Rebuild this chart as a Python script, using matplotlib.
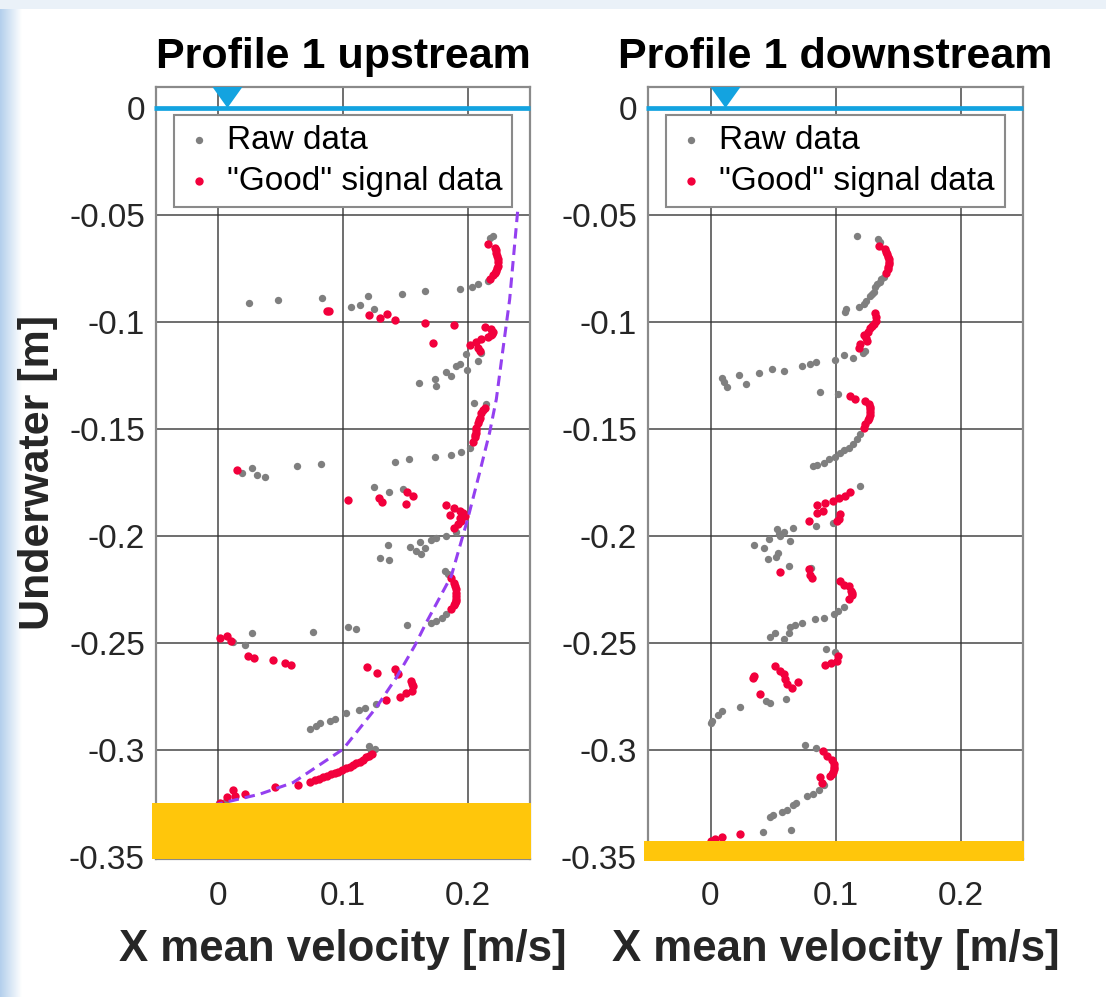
import numpy as np
import matplotlib
matplotlib.use("Agg")
import matplotlib.pyplot as plt
from matplotlib.patches import Rectangle

plt.rcParams["font.family"] = ["Liberation Sans", "DejaVu Sans"]

# %% Data  (velocity [m/s], depth [m])

up_raw = [
    (0.218, -0.061), (0.220, -0.0598), (0.2163, -0.0808), (0.2083, -0.0824), (0.2037, -0.0835),
    (0.1936, -0.0847), (0.166, -0.0857), (0.1476, -0.0868), (0.12, -0.0879), (0.1134, -0.0919),
    (0.1067, -0.0928), (0.1246, -0.0938), (0.0834, -0.0888), (0.0479, -0.0897), (0.0246, -0.091),
    (0.211, -0.1146), (0.1989, -0.1151), (0.2083, -0.1182), (0.1936, -0.1198), (0.1904, -0.1206),
    (0.1829, -0.1234), (0.1869, -0.1252), (0.1995, -0.1224), (0.1735, -0.1268), (0.161, -0.1287),
    (0.1743, -0.1299), (0.2048, -0.1377), (0.215, -0.1385),
    (0.2021, -0.1587), (0.1944, -0.161), (0.1864, -0.1621), (0.1741, -0.1631), (0.1527, -0.1642),
    (0.1414, -0.1653), (0.0821, -0.1662), (0.0634, -0.1673), (0.0273, -0.1682), (0.0193, -0.1704),
    (0.031, -0.1715), (0.0377, -0.1724), (0.1246, -0.177), (0.1369, -0.1793), (0.1481, -0.178),
    (0.1904, -0.1984), (0.1829, -0.2), (0.1743, -0.2012), (0.1709, -0.2019), (0.1615, -0.2028),
    (0.154, -0.205), (0.1361, -0.2042), (0.1655, -0.2058), (0.1588, -0.207), (0.1628, -0.2086),
    (0.1294, -0.2101), (0.1369, -0.2112), (0.1816, -0.2164), (0.1842, -0.2179),
    (0.1829, -0.2366), (0.1797, -0.2382), (0.1749, -0.2397), (0.1709, -0.2408), (0.1516, -0.2417),
    (0.1107, -0.2436), (0.104, -0.2428), (0.0759, -0.2449), (0.0273, -0.2456), (0.0211, -0.2511),
    (0.0118, -0.2495), (0.1267, -0.2787), (0.1174, -0.2802), (0.1128, -0.2813), (0.1021, -0.2826),
    (0.0933, -0.2854), (0.0898, -0.2865), (0.0818, -0.2876), (0.0786, -0.2888), (0.0733, -0.2904),
    (0.1209, -0.2984), (0.1254, -0.2997), (0.1227, -0.3004), (0.0005, -0.3248), (0.005, -0.3242),
]
up_good = [
    (0.216, -0.0637), (0.2217, -0.0653), (0.2225, -0.0665), (0.223, -0.0676), (0.2237, -0.069),
    (0.2243, -0.0707), (0.2245, -0.0722), (0.2243, -0.0738), (0.2238, -0.075), (0.223, -0.0762),
    (0.2217, -0.0772), (0.2203, -0.0782), (0.2176, -0.0797),
    (0.0888, -0.0949), (0.0875, -0.0949), (0.1209, -0.0969), (0.13, -0.0981), (0.1353, -0.0961),
    (0.1414, -0.0991), (0.1658, -0.1003), (0.1888, -0.1012),
    (0.2136, -0.1022), (0.219, -0.1034), (0.22, -0.1045), (0.2198, -0.1058), (0.2185, -0.1062),
    (0.2163, -0.1069), (0.211, -0.1081), (0.207, -0.1093), (0.2016, -0.1109), (0.2083, -0.112),
    (0.2096, -0.1136), (0.1722, -0.11),
    (0.2136, -0.14), (0.2123, -0.1412), (0.211, -0.1424), (0.2096, -0.1447), (0.209, -0.146),
    (0.2083, -0.147), (0.207, -0.1494), (0.2066, -0.1505), (0.2064, -0.1517), (0.206, -0.153),
    (0.2056, -0.154), (0.2043, -0.1561), (0.015, -0.1693),
    (0.104, -0.1832), (0.1289, -0.1821), (0.1316, -0.1841), (0.1513, -0.1797), (0.1561, -0.1813),
    (0.1508, -0.1849), (0.1824, -0.1857), (0.1888, -0.1868), (0.1936, -0.1883), (0.1962, -0.1895),
    (0.1976, -0.1907), (0.1856, -0.1903), (0.1935, -0.1915), (0.1949, -0.193), (0.1922, -0.1945),
    (0.1888, -0.1961),
    (0.1869, -0.2195), (0.1888, -0.2218), (0.1897, -0.2233), (0.1904, -0.2249), (0.1908, -0.2265),
    (0.1909, -0.2281), (0.1907, -0.2293), (0.1904, -0.2304), (0.1896, -0.2315), (0.1888, -0.2324),
    (0.1864, -0.2343),
    (0.0016, -0.2478), (0.007, -0.2467), (0.0104, -0.2491), (0.0238, -0.2561), (0.0283, -0.2572),
    (0.0439, -0.2581), (0.0532, -0.2592), (0.0586, -0.2603),
    (0.1193, -0.2611), (0.1275, -0.2643), (0.1414, -0.2623), (0.1441, -0.2646), (0.1548, -0.2677),
    (0.1555, -0.269), (0.1561, -0.2701), (0.1556, -0.2724), (0.1508, -0.2735), (0.1455, -0.2751),
    (0.1348, -0.2767),
    (0.1235, -0.302), (0.1212, -0.3028), (0.1187, -0.3035), (0.116, -0.3045), (0.1134, -0.3056),
    (0.1107, -0.3063), (0.108, -0.3071), (0.1053, -0.3079), (0.1027, -0.3087), (0.0993, -0.3095),
    (0.096, -0.3102), (0.0933, -0.3108), (0.0906, -0.3113), (0.0873, -0.3121), (0.084, -0.3129),
    (0.0806, -0.3136), (0.0773, -0.3142), (0.0733, -0.3148), (0.0639, -0.3163), (0.0452, -0.3173),
    (0.0211, -0.3204), (0.0118, -0.3187), (0.007, -0.3222), (0.0131, -0.3214), (0.0011, -0.3246),
    (0.0, -0.3503),
]
down_raw = [
    (0.1171, -0.0598), (0.1336, -0.0611), (0.1357, -0.0626),
    (0.1384, -0.0788), (0.1365, -0.08), (0.1352, -0.0813), (0.1335, -0.0825), (0.1317, -0.0835),
    (0.1304, -0.086), (0.129, -0.087), (0.1277, -0.0879), (0.1245, -0.0902), (0.1224, -0.0917),
    (0.1184, -0.0928), (0.1085, -0.0941), (0.1077, -0.0953),
    (0.1237, -0.1136), (0.1219, -0.1146), (0.1139, -0.1167), (0.1064, -0.1156), (0.0997, -0.1178),
    (0.0845, -0.1187), (0.0792, -0.1196), (0.0731, -0.1206), (0.0589, -0.1229), (0.0493, -0.1218),
    (0.0384, -0.1237), (0.028, -0.1291), (0.0227, -0.1246), (0.0091, -0.126), (0.0104, -0.1283),
    (0.0131, -0.1302), (0.0872, -0.1327), (0.1016, -0.1338),
    (0.1197, -0.1525), (0.1171, -0.1545), (0.1139, -0.1572), (0.1104, -0.1587), (0.1064, -0.1598),
    (0.1032, -0.1614), (0.0997, -0.1629), (0.0944, -0.1642), (0.0904, -0.1657), (0.0851, -0.1668),
    (0.0819, -0.1673), (0.1192, -0.1766),
    (0.0979, -0.1941), (0.0845, -0.1953), (0.0659, -0.1961), (0.0584, -0.1984), (0.0531, -0.1969),
    (0.0544, -0.1992), (0.0632, -0.2023), (0.0464, -0.2016), (0.0344, -0.2044), (0.0424, -0.2055),
    (0.0557, -0.2), (0.0536, -0.2078), (0.0525, -0.2097), (0.0456, -0.2109), (0.0624, -0.214),
    (0.0803, -0.2148),
    (0.1064, -0.233), (0.1016, -0.2351), (0.0984, -0.2367), (0.0904, -0.2386), (0.0837, -0.239),
    (0.0731, -0.2405), (0.0677, -0.2418), (0.0637, -0.2424), (0.0624, -0.2452), (0.0589, -0.2483),
    (0.0517, -0.2452), (0.0477, -0.2471), (0.0925, -0.2529), (0.0997, -0.2542),
    (0.0605, -0.2763), (0.0445, -0.2771), (0.0472, -0.2783), (0.0232, -0.2799), (0.0091, -0.2818),
    (0.0056, -0.2838), (0.0011, -0.2865), (0.0, -0.2876), (0.0757, -0.2978), (0.0845, -0.2989),
    (0.0904, -0.3165), (0.0864, -0.3187), (0.0819, -0.3207), (0.0771, -0.3215), (0.0685, -0.3246),
    (0.0659, -0.3258), (0.0611, -0.328), (0.0571, -0.3289), (0.0499, -0.3305), (0.0477, -0.3316),
    (0.0643, -0.3374), (0.0416, -0.3383),
]
down_good = [
    (0.1344, -0.0645), (0.1397, -0.066), (0.1405, -0.0672), (0.1411, -0.0684), (0.1421, -0.0695),
    (0.1424, -0.0707), (0.1425, -0.072), (0.1424, -0.0731), (0.142, -0.0743), (0.1416, -0.0754),
    (0.1405, -0.0769),
    (0.1317, -0.0956), (0.1322, -0.0975), (0.1325, -0.0995), (0.1304, -0.1011), (0.129, -0.1018),
    (0.1277, -0.1026), (0.1256, -0.1047), (0.1224, -0.1062), (0.124, -0.1075), (0.1251, -0.1089),
    (0.1197, -0.1104), (0.1184, -0.112),
    (0.1112, -0.1346), (0.1157, -0.1358), (0.1237, -0.1369), (0.1264, -0.1385), (0.1276, -0.1396),
    (0.1277, -0.1408), (0.1276, -0.1422), (0.1272, -0.1436), (0.1265, -0.1447), (0.1256, -0.1458),
    (0.1237, -0.1478), (0.1224, -0.1498),
    (0.1112, -0.1794), (0.1077, -0.1813), (0.1024, -0.1821), (0.0979, -0.1836), (0.0917, -0.1847),
    (0.0851, -0.1857), (0.0899, -0.1883), (0.0851, -0.1891), (0.1037, -0.1899), (0.1024, -0.1919),
    (0.1011, -0.193), (0.0784, -0.193),
    (0.0557, -0.2168), (0.0784, -0.2155), (0.0797, -0.2183), (0.0811, -0.2199),
    (0.1032, -0.221), (0.1069, -0.223), (0.1104, -0.2233), (0.1123, -0.2257), (0.1128, -0.2267),
    (0.1131, -0.2277), (0.1104, -0.2296),
    (0.1016, -0.2561), (0.1011, -0.2584), (0.0963, -0.2595), (0.0917, -0.2603), (0.0517, -0.261),
    (0.0552, -0.263), (0.0584, -0.2646), (0.0597, -0.2669), (0.061, -0.2693), (0.065, -0.2713),
    (0.0696, -0.2685), (0.0349, -0.2657), (0.0339, -0.2666), (0.0397, -0.2739),
    (0.0899, -0.3004), (0.0931, -0.3028), (0.0971, -0.3046), (0.0989, -0.3067), (0.0985, -0.3078),
    (0.0989, -0.309), (0.098, -0.3102), (0.0971, -0.3113), (0.0957, -0.3121), (0.0872, -0.3129),
    (0.0891, -0.3153),
    (0.0232, -0.3394), (0.0091, -0.3405), (0.0037, -0.3418), (0.0, -0.3425),
]
# Dashed fitted profile (upstream only)
fit_v = [-0.0046, 0.0332, 0.0599, 0.1, 0.1267, 0.1428, 0.1575, 0.1668, 0.1869, 0.2003,
         0.2096, 0.2176, 0.223, 0.2283, 0.2337, 0.2404]
fit_d = [-0.3259, -0.3207, -0.3153, -0.2997, -0.2802, -0.2662, -0.2514, -0.2405, -0.2187, -0.1915,
         -0.1704, -0.1517, -0.1361, -0.1128, -0.0894, -0.0463]

titles = ["Profile 1 upstream", "Profile 1 downstream"]
bed_level = [-0.325, -0.3425]  # top of the yellow bed block [m]
surface_marker_v = [0.0073, 0.012]  # x position of the water surface triangle
yticks = [0, -0.05, -0.1, -0.15, -0.2, -0.25, -0.3, -0.35]
ytick_labels = ["0", "-0.05", "-0.1", "-0.15", "-0.2", "-0.25", "-0.3", "-0.35"]
xticks = [0, 0.1, 0.2]
xtick_labels = ["0", "0.1", "0.2"]
xlim = (-0.05, 0.25)
ylim = (-0.351, 0.0098)

# %% Figure

c_raw = "#7f7f7f"
c_good = "#F2003C"
c_water = "#13A3E0"
c_bed = "#FFC60B"
c_fit = "#9440F0"

fig = plt.figure(figsize=(11.06, 9.97), dpi=100)

# light blue slide border on the left and top
ax_bg = fig.add_axes([0, 0, 22 / 1106, 1])
ax_bg.imshow(np.linspace(0, 1, 64)[None, :], cmap=matplotlib.colors.LinearSegmentedColormap.from_list(
    "edge", ["#b3cfec", "#ffffff"]), aspect="auto", extent=(0, 1, 0, 1))
ax_bg.axis("off")
ax_top = fig.add_axes([0, 1 - 9 / 997, 1, 9 / 997])
ax_top.set_facecolor("#eaf1f8")
ax_top.set_xticks([])
ax_top.set_yticks([])
for s in ax_top.spines.values():
    s.set_visible(False)

positions = [[156 / 1106, 138 / 997, 374 / 1106, 772 / 997],
             [648 / 1106, 138 / 997, 375 / 1106, 772 / 997]]
data = [(up_raw, up_good), (down_raw, down_good)]

for i, pos in enumerate(positions):
    ax = fig.add_axes(pos)
    raw, good = data[i]
    raw = np.array(raw)
    good = np.array(good)
    ax.scatter(raw[:, 0], raw[:, 1], s=28, color=c_raw, lw=0, zorder=2, label="Raw data")
    ax.scatter(good[:, 0], good[:, 1], s=36, color=c_good, lw=0, zorder=2.1,
               label='"Good" signal data')
    if i == 0:
        ax.plot(fit_v, fit_d, "--", color=c_fit, lw=2.2, dashes=(3.4, 2.0), zorder=3)
    # bed block
    ax.add_patch(Rectangle((xlim[0] - 0.003, ylim[0] - (0.001 if i else 0)),
                           xlim[1] - xlim[0] + 0.004, bed_level[i] - ylim[0] + (0.001 if i else 0),
                           color=c_bed, lw=0, zorder=4, clip_on=False))
    # water surface line and triangle
    ax.plot([xlim[0] - 0.002, xlim[1]], [0, 0], color=c_water, lw=3.4, zorder=5,
            clip_on=False, solid_capstyle="butt")
    xv = surface_marker_v[i]
    ax.fill([xv - 0.012, xv + 0.012, xv], [ylim[1], ylim[1], 0], color=c_water, lw=0, zorder=5)

    ax.set_xlim(*xlim)
    ax.set_ylim(*ylim)
    ax.set_xticks(xticks)
    ax.set_xticklabels(xtick_labels)
    ax.set_yticks(yticks)
    ax.set_yticklabels(ytick_labels)
    ax.tick_params(length=0, labelsize=24, colors="#262626", pad=8)
    ax.tick_params(axis="x", pad=16)
    ax.grid(True, color="#333333", lw=1.1, alpha=0.9)
    ax.set_axisbelow(True)
    for s in ax.spines.values():
        s.set_color("#8a8a8a")
        s.set_linewidth(1.6)
    ax.set_title(titles[i], fontsize=31, fontweight="bold", pad=14)
    ax.set_xlabel("X mean velocity [m/s]", fontsize=31.5, fontweight="bold", color="#262626",
                  labelpad=12)
    if i == 0:
        ax.set_ylabel("Underwater [m]", fontsize=31, fontweight="bold", color="#262626",
                      labelpad=8)
    leg = ax.legend(loc="upper center", bbox_to_anchor=(0.5, 0.964), borderaxespad=0,
                    fontsize=24, fancybox=False, framealpha=1, edgecolor="#8a8a8a",
                    scatterpoints=1, handlelength=0.9, handletextpad=0.4, borderpad=0.3,
                    labelspacing=0.3, markerscale=1.0)
    leg.get_frame().set_linewidth(1.5)
    leg.set_zorder(6)

fig.savefig("out.png", dpi=100)
